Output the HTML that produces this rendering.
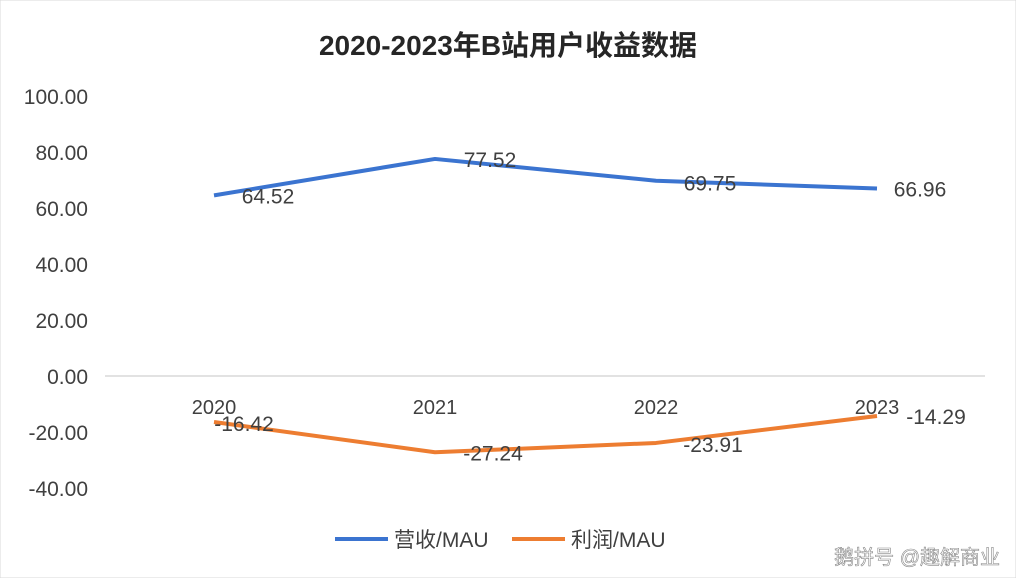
<!DOCTYPE html>
<html><head><meta charset="utf-8">
<style>
body{margin:0;background:#fff;}
svg{display:block;font-family:"Liberation Sans","Noto Sans CJK SC",sans-serif;}
</style></head>
<body>
<svg id="chart" width="1016" height="578" viewBox="0 0 1016 578">
<rect x="0" y="0" width="1016" height="578" fill="#fff" stroke="#d9d9d9"/>
<text x="508" y="55" text-anchor="middle" font-size="28" font-weight="bold" fill="#262626">2020-2023年B站用户收益数据</text>
<g id="yaxis"></g>
<line x1="105" y1="376" x2="985" y2="376" stroke="#d9d9d9" stroke-width="1.5"/>
<g id="xaxis"></g>
<g id="series"></g>
<g>
<g>
<line x1="335" y1="539" x2="388" y2="539" stroke="#3b74d0" stroke-width="4"/>
<text x="394" y="547" font-size="21" fill="#404040">营收/MAU</text></g>
<g>
<line x1="512" y1="539" x2="565" y2="539" stroke="#ed7d31" stroke-width="4"/>
<text x="571" y="547" font-size="21" fill="#404040">利润/MAU</text></g>
</g>
<text x="1000" y="564" text-anchor="end" font-size="20" fill="#fff" stroke="#888" stroke-width="0.6">鹅拼号 @趣解商业</text>
</svg>
<script>
const categories=["2020","2021","2022","2023"];
const revenue=[64.52,77.52,69.75,66.96];
const profit=[-16.42,-27.24,-23.91,-14.29];
const yTicks=[100,80,60,40,20,0,-20,-40];
const NS="http://www.w3.org/2000/svg";
function y(v){return 376-v*2.8;}
function x(i){return 214+i*221;}
function mk(tag,attrs,parent,text){const e=document.createElementNS(NS,tag);for(const k in attrs)e.setAttribute(k,attrs[k]);if(text!==undefined)e.textContent=text;parent.appendChild(e);return e;}
const ya=document.getElementById('yaxis');
yTicks.forEach(t=>{const e=mk('text',{x:88,y:y(t)+8,'text-anchor':'end','font-size':21,fill:'#404040'},ya,t.toFixed(2));

});
const xa=document.getElementById('xaxis');
categories.forEach((c,i)=>{const e=mk('text',{x:x(i),y:414,'text-anchor':'middle','font-size':20,fill:'#404040'},xa,c);

});
const sg=document.getElementById('series');
function series(vals,color,name,offs){
 const p=mk('polyline',{points:vals.map((v,i)=>x(i)+','+y(v)).join(' '),fill:'none',stroke:color,'stroke-width':4,'stroke-linejoin':'round'},sg);
 
 
 vals.forEach((v,i)=>{const t=mk('text',{x:x(i)+offs[i][0],y:y(v)+offs[i][1],'text-anchor':'middle','font-size':21,fill:'#404040'},sg,v.toFixed(2));
 
 });
}
series(revenue,'#3b74d0','revenue',[[54,8],[55,8],[54,10],[43,8]]);
series(profit,'#ed7d31','profit',[[30,9],[58,8],[57,9],[59,8]]);
</script>
</body></html>
